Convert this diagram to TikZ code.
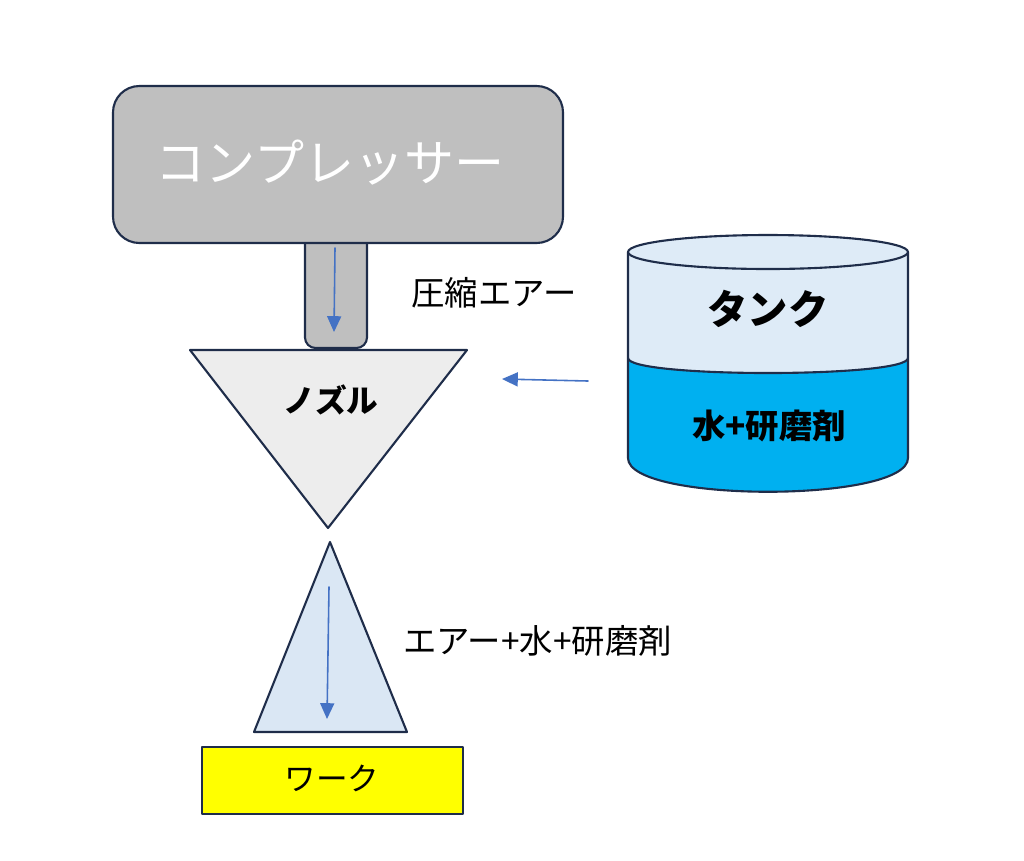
\documentclass[tikz,border=0pt]{standalone}
\usepackage{fontspec}
\newfontfamily\jpfont{Noto Sans CJK JP}
\usetikzlibrary{arrows.meta}
\definecolor{edge}{HTML}{1F2D4A}
\definecolor{compgray}{HTML}{BFBFBF}
\definecolor{nozzlegray}{HTML}{EDEDED}
\definecolor{spray}{HTML}{DAE7F4}
\definecolor{tanktop}{HTML}{DEEBF7}
\definecolor{water}{HTML}{00B0F0}
\definecolor{flowblue}{HTML}{4472C4}
\definecolor{workyellow}{HTML}{FFFF00}

\begin{document}
\begin{tikzpicture}[x=0.02cm, y=-0.02cm,
			line join=round, line cap=round,
			every node/.style = {inner sep=1pt, font=\jpfont},
			part/.style = {draw=edge, line width=1.2pt},
			flow/.style = {draw=flowblue, line width=0.9pt, -{Triangle[length=9pt,width=8pt]}}
			]
			\useasboundingbox (0,0) rectangle (1024,860);
			\draw[part, fill=compgray, rounded corners=6pt]
			(305,230) -- (305,348) -- (367,348) -- (367,230);
			\draw[part, fill=compgray, rounded corners=15pt] (113,86) rectangle (563,243);
			\node[text=white, font=\jpfont\fontsize{28.5pt}{31pt}\selectfont] (comp) at (330,163) {コンプレッサー};
			\draw[part, fill=nozzlegray] (190,350) -- (467,350) -- (328,528) -- cycle;
			\node[font=\jpfont\bfseries\fontsize{18pt}{20pt}\selectfont] (nozzle) at (331,400) {ノズル};
			\draw[part, fill=spray] (330,542) -- (407,732) -- (254,732) -- cycle;
			\draw[part, fill=workyellow] (202,747) rectangle (463,814);
			\node[font=\jpfont\fontsize{18pt}{20pt}\selectfont] (work) at (332,778) {ワーク};
			\fill[tanktop] (628,252) rectangle (908,390);
			\fill[water]
			(628,358) .. controls (628,378) and (908,378) .. (908,358) --
			(908,458) .. controls (908,503) and (628,503) .. (628,458) -- cycle;
			\draw[part] (628,358) .. controls (628,378) and (908,378) .. (908,358);
			\draw[part] (908,252) -- (908,458) .. controls (908,503) and (628,503) .. (628,458) -- (628,252);
			\filldraw[part, fill=tanktop] (768,252) ellipse[x radius=2.8cm, y radius=0.34cm];
			\node[font=\jpfont\bfseries\fontsize{23pt}{26pt}\selectfont] (tank) at (768,309) {タンク};
			\node[font=\jpfont\bfseries\fontsize{19pt}{22pt}\selectfont] (mix) at (769,426) {水+研磨剤};
			\node[font=\jpfont\fontsize{19pt}{22pt}\selectfont] (air) at (494,293) {圧縮エアー};
			\node[font=\jpfont\fontsize{19pt}{22pt}\selectfont, anchor=west] (jet) at (401,641) {エアー+水+研磨剤};
			\coordinate (airtop) at (335,248);
			\coordinate (airend) at (334,332);
			\coordinate (tankout) at (588,381);
			\coordinate (nozzlein) at (502,379);
			\coordinate (jettop) at (329,587);
			\coordinate (jetend) at (327,719);
			\draw[flow] (airtop) -- (airend);
			\draw[flow] (tankout) -- (nozzlein);
			\draw[flow] (jettop) -- (jetend);
			\end{tikzpicture}
\end{document}
